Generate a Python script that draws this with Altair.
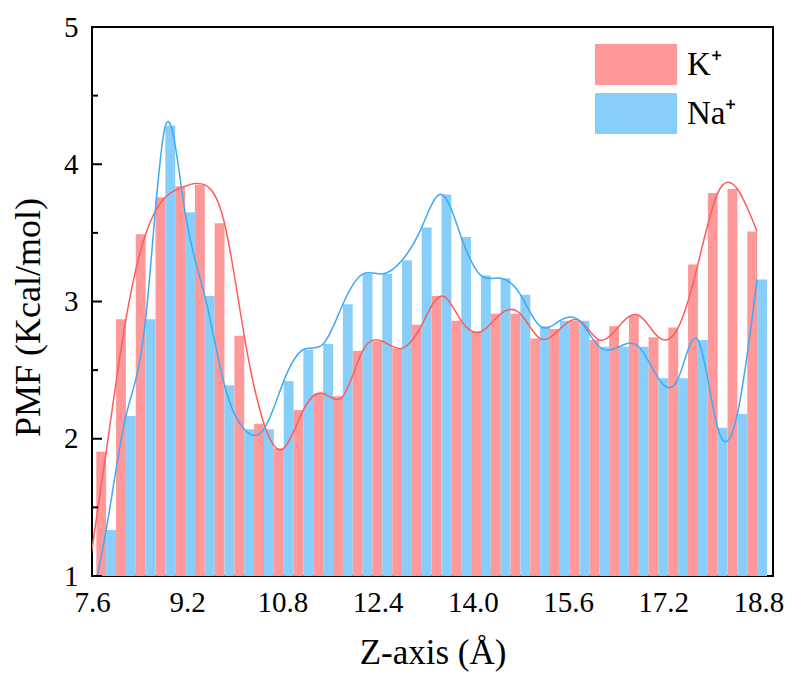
import altair as alt
import pandas as pd

# ---- data ----
z_pos = [7.507, 7.838, 8.170, 8.501, 8.833, 9.164, 9.496, 9.827, 10.159, 10.490,
         10.822, 11.153, 11.485, 11.816, 12.148, 12.479, 12.811, 13.142, 13.474, 13.805,
         14.137, 14.468, 14.800, 15.131, 15.463, 15.794, 16.126, 16.457, 16.789, 17.120,
         17.452, 17.783, 18.115, 18.446, 18.778]
k_pmf = [0.92, 1.905, 2.87, 3.49, 3.76, 3.84, 3.85, 3.57, 2.75, 2.11,
         1.93, 2.21, 2.33, 2.31, 2.64, 2.71, 2.66, 2.83, 3.04, 2.86,
         2.78, 2.91, 2.91, 2.73, 2.80, 2.86, 2.72, 2.82, 2.90, 2.74,
         2.81, 3.27, 3.79, 3.82, 3.51]
na_pmf = [0.65, 1.335, 2.165, 2.87, 4.28, 3.65, 3.04, 2.39, 2.07, 2.07,
          2.42, 2.65, 2.69, 2.98, 3.20, 3.20, 3.30, 3.54, 3.78, 3.47,
          3.19, 3.17, 3.05, 2.82, 2.86, 2.86, 2.67, 2.67, 2.67, 2.44,
          2.44, 2.72, 2.08, 2.18, 3.16]
ions = ["K⁺", "Na⁺"]
x_tick_values = [7.6, 9.2, 10.8, 12.4, 14.0, 15.6, 17.2, 18.8]
y_major = [1, 2, 3, 4, 5]
y_minor = [1.5, 2.5, 3.5, 4.5]

bar_colors = ["#FF9999", "#87CEFA"]
line_colors = ["#FF5C5C", "#3FA9F5"]
FONT = "Liberation Serif"

rows = []
for i, zz in enumerate(z_pos):
    rows.append({"z": zz, "ion": ions[0], "pmf": k_pmf[i], "side": -1})
    rows.append({"z": zz, "ion": ions[1], "pmf": na_pmf[i], "side": 0})
df = pd.DataFrame(rows)

x_scale = alt.Scale(domain=[7.6, 19.045], nice=False, zero=False)
y_scale = alt.Scale(domain=[1, 5], nice=False, zero=False)

base = alt.Chart(df)

bars = base.transform_calculate(
    x0="datum.z + datum.side * 0.1657",
    x1="datum.z + (datum.side + 1) * 0.1657",
).mark_bar(clip=True, strokeWidth=0).encode(
    x=alt.X("x0:Q", scale=x_scale,
            axis=alt.Axis(values=x_tick_values, format=".1f", title="Z-axis (Å)",
                          grid=False, domain=False, ticks=False, tickSize=0,
                          labelPadding=12, labelFont=FONT, labelFontSize=29,
                          labelColor="black", titleFont=FONT, titleFontSize=35,
                          titleFontWeight="normal", titleColor="black",
                          titleBaseline="alphabetic", titleY=87, labelFlush=False)),
    x2="x1:Q",
    y=alt.Y("pmf:Q", scale=y_scale,
            axis=alt.Axis(values=y_major, format="d", title="PMF (Kcal/mol)",
                          grid=False, domain=False, ticks=False, tickSize=0,
                          labelPadding=14, labelFont=FONT, labelFontSize=29,
                          labelColor="black", titleFont=FONT, titleFontSize=36,
                          titleFontWeight="normal", titleColor="black",
                          titleBaseline="alphabetic", titleX=-53, titleY=290,
                          titleAlign="center", titleAngle=-90, labelFlush=False)),
    y2=alt.datum(1),
    color=alt.Color("ion:N", scale=alt.Scale(domain=ions, range=bar_colors),
                    legend=alt.Legend(orient="none", legendX=523.5, legendY=17,
                                      title=None, padding=0,
                                      symbolType="M-2,-1H2V1H-2Z",
                                      symbolSize=1681, symbolStrokeWidth=0,
                                      labelFont=FONT, labelFontSize=33,
                                      labelColor="black", labelOffset=30.5,
                                      rowPadding=8)),
)

lines = base.mark_line(clip=True, strokeWidth=1.5, interpolate="natural").encode(
    x=alt.X("z:Q", scale=x_scale),
    y=alt.Y("pmf:Q", scale=y_scale),
    stroke=alt.Stroke("ion:N", scale=alt.Scale(domain=ions, range=line_colors), legend=None),
)

major_ticks = alt.Chart(pd.DataFrame({"v": y_major})).mark_rule(
    color="black", strokeWidth=2).encode(
    y=alt.Y("v:Q", scale=y_scale), x=alt.value(0), x2=alt.value(10))
minor_ticks = alt.Chart(pd.DataFrame({"v": y_minor})).mark_rule(
    color="black", strokeWidth=2).encode(
    y=alt.Y("v:Q", scale=y_scale), x=alt.value(0), x2=alt.value(6))

chart = alt.layer(bars, lines, major_ticks, minor_ticks).resolve_scale(
    color="independent", stroke="independent"
).properties(
    width=681, height=549,
    autosize=alt.AutoSizeParams(type="none"),
    padding={"left": 92, "top": 27, "right": 12, "bottom": 98},
    background="white",
).configure_view(stroke="black", strokeWidth=2)

chart.save("out.html", embed_options={"renderer": "svg", "actions": False})
